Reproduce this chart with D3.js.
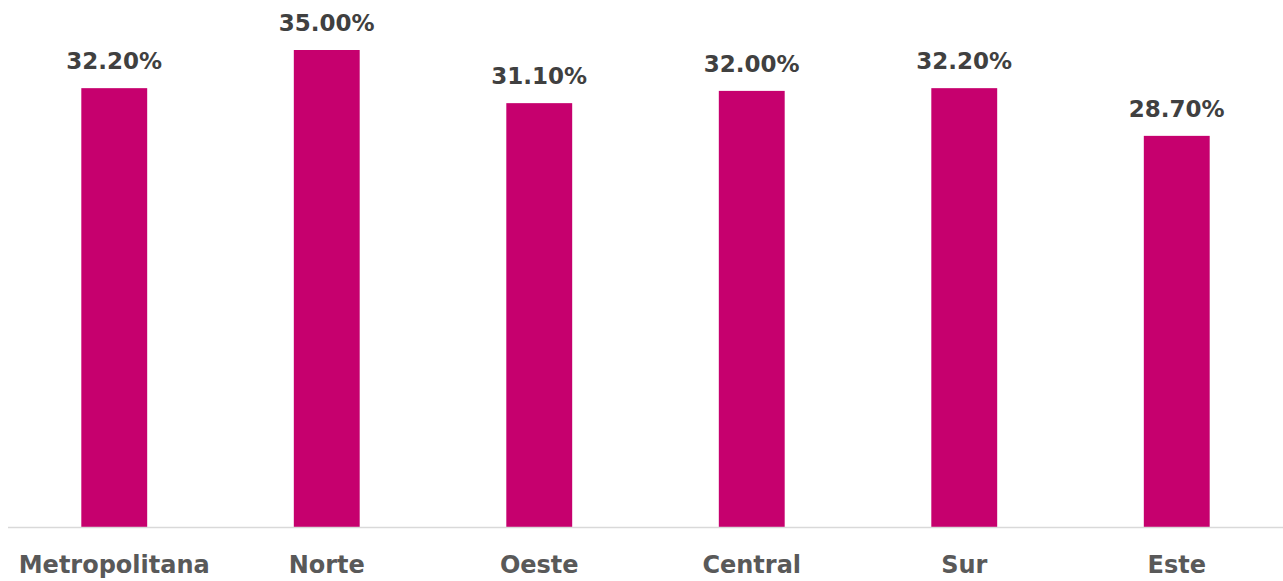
<!DOCTYPE html>
<html>
<head>
<meta charset="utf-8">
<script src="https://cdn.jsdelivr.net/npm/d3@7"></script>
<style>
  body { margin: 0; background: #fff; }
</style>
</head>
<body>
<div id="chart"></div>
<script>
const regions = ["Metropolitana", "Norte", "Oeste", "Central", "Sur", "Este"];
const shares = [32.2, 35.0, 31.1, 32.0, 32.2, 28.7];

const width = 1283;
const height = 581;
const baseY = 527;

const svg = d3.select("#chart")
    .append("svg")
    .attr("width", width)
    .attr("height", height);

const x = d3.scaleBand()
    .domain(regions)
    .range([8, 1283])
    .paddingInner(0.69)
    .paddingOuter(0.345);

const y = d3.scaleLinear()
    .domain([0, 35])
    .range([baseY, 50]);

// barras
svg.selectAll("rect.bar")
    .data(regions)
    .join("rect")
    .attr("class", "bar")
    .attr("x", d => x(d))
    .attr("width", x.bandwidth())
    .attr("y", (d, i) => y(shares[i]))
    .attr("height", (d, i) => y(0) - y(shares[i]))
    .attr("fill", "#C6006E");

// eje
svg.append("line")
    .attr("x1", 8)
    .attr("x2", 1283)
    .attr("y1", baseY + 0.5)
    .attr("y2", baseY + 0.5)
    .attr("stroke", "#d9d9d9")
    .attr("stroke-width", 1.5);

// etiquetas de valor
svg.selectAll("text.value")
    .data(regions)
    .join("text")
    .attr("class", "value")
    .attr("x", d => x(d) + x.bandwidth() / 2)
    .attr("y", (d, i) => y(shares[i]) - 19)
    .attr("text-anchor", "middle")
    .attr("font-family", "'DejaVu Sans', sans-serif")
    .attr("font-weight", "bold")
    .attr("font-size", "23px")
    .attr("fill", "#404040")
    .text((d, i) => shares[i].toFixed(2) + "%");

// etiquetas de categoría
svg.selectAll("text.cat")
    .data(regions)
    .join("text")
    .attr("class", "cat")
    .attr("x", d => x(d) + x.bandwidth() / 2)
    .attr("y", 573)
    .attr("text-anchor", "middle")
    .attr("font-family", "'DejaVu Sans', sans-serif")
    .attr("font-weight", "bold")
    .attr("font-size", "24px")
    .attr("fill", "#595959")
    .text(d => d);
</script>
</body>
</html>
